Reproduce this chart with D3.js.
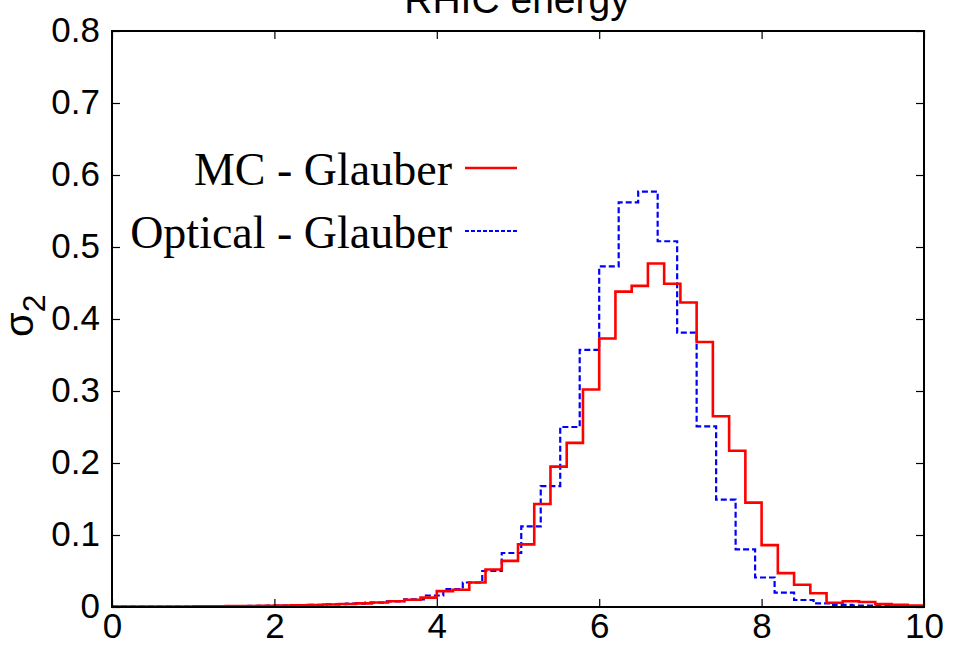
<!DOCTYPE html>
<html><head><meta charset="utf-8">
<script src="https://cdn.jsdelivr.net/npm/d3@7"></script>
<style>body{margin:0;background:#fff}svg{display:block}</style>
</head><body>
<script>
const title = "RHIC energy";
const yLabel = "σ";
const yLabelSub = "2";
const xTicks = [0, 2, 4, 6, 8, 10];
const yTicks = [0, 0.1, 0.2, 0.3, 0.4, 0.5, 0.6, 0.7, 0.8];
const seriesNames = ["MC - Glauber", "Optical - Glauber"];

// MC - Glauber: bins of width 0.2 from 0 to 10
const mcBinWidth = 0.2;
const mcValues = [
  0.0005,0.0005,0.0005,0.0006,0.0007,0.0008,0.0010,0.0012,0.0014,0.0017,
  0.0020,0.0023,0.0028,0.0035,0.0042,0.0050,0.0062,0.0080,0.0100,0.0130,
  0.022,0.024,0.034,0.052,0.064,0.087,0.143,0.195,0.228,0.302,
  0.373,0.438,0.446,0.477,0.449,0.423,0.368,0.265,0.217,0.145,
  0.086,0.047,0.031,0.019,0.006,0.008,0.007,0.004,0.003,0.002
];
// Optical - Glauber: bins of width 0.24 from 0
const optBinWidth = 0.24;
const optValues = [
  0.0005,0.0005,0.0006,0.0007,0.0008,0.0010,0.0012,0.0015,0.0019,0.0024,
  0.0030,0.0038,0.0048,0.0060,0.0078,0.0105,0.016,0.025,0.034,0.050,
  0.075,0.112,0.168,0.250,0.357,0.473,0.562,0.577,0.508,0.381,
  0.251,0.149,0.080,0.041,0.020,0.0097,0.005,0.003,0.002,0.0012,
  0.0008,0.0005
];

const W = 956, H = 645;
const m = {left: 112, right: 32, top: 31, bottom: 38};
const svg = d3.select("body").append("svg").attr("width", W).attr("height", H);
const x = d3.scaleLinear().domain([0, 10]).range([m.left, W - m.right]);
const y = d3.scaleLinear().domain([0, 0.8]).range([H - m.bottom, m.top]);

svg.append("defs").append("clipPath").attr("id", "clip")
  .append("rect").attr("x", x(0)).attr("y", y(0.8)).attr("width", x(10) - x(0)).attr("height", y(0) - y(0.8));

function stepPoints(vals, w) {
  const pts = vals.map((v, i) => [i * w, v]);
  pts.push([vals.length * w, vals[vals.length - 1]]);
  return pts;
}
const line = d3.line().x(d => x(d[0])).y(d => y(d[1])).curve(d3.curveStepAfter);

const g = svg.append("g").attr("clip-path", "url(#clip)");
g.append("path").attr("d", line(stepPoints(optValues, optBinWidth)))
  .attr("fill", "none").attr("stroke", "#0000ff").attr("stroke-width", 2.2)
  .attr("stroke-dasharray", "6,3");
g.append("path").attr("d", line(stepPoints(mcValues, mcBinWidth)))
  .attr("fill", "none").attr("stroke", "#ff0000").attr("stroke-width", 2.6);

// axes with inward ticks on all sides
const font = "'Liberation Sans', Arial, sans-serif";
const tickLen = 8;
const axB = svg.append("g").attr("transform", `translate(0,${y(0)})`)
  .call(d3.axisBottom(x).tickValues(xTicks).tickSize(-tickLen).tickFormat(d3.format("d")));
const axT = svg.append("g").attr("transform", `translate(0,${y(0.8)})`)
  .call(d3.axisTop(x).tickValues(xTicks).tickSize(-tickLen).tickFormat(""));
const axL = svg.append("g").attr("transform", `translate(${x(0)},0)`)
  .call(d3.axisLeft(y).tickValues(yTicks).tickSize(-tickLen).tickPadding(12).tickFormat(d => d === 0 ? "0" : d3.format(".1f")(d)));
const axR = svg.append("g").attr("transform", `translate(${x(10)},0)`)
  .call(d3.axisRight(y).tickValues(yTicks).tickSize(-tickLen).tickFormat(""));
[axB, axT, axL, axR].forEach(a => {
  a.select(".domain").remove();
  a.selectAll(".tick line").attr("stroke", "#000").attr("stroke-width", 1.2);
  a.selectAll("text").attr("font-family", font).attr("font-size", 35).attr("fill", "#000");
});
axB.selectAll("text").attr("y", 31).attr("dy", 0);
axL.selectAll("text").attr("dy", "0.3em");
svg.append("rect").attr("x", x(0)).attr("y", y(0.8)).attr("width", x(10) - x(0)).attr("height", y(0) - y(0.8))
  .attr("fill", "none").attr("stroke", "#000").attr("stroke-width", 2);

// title
svg.append("text").attr("x", 517).attr("y", 13).attr("text-anchor", "middle")
  .attr("font-family", font).attr("font-size", 39).text(title);

// y label
const yl = svg.append("text").attr("transform", `translate(33,337) rotate(-90)`)
  .attr("font-family", font).attr("font-size", 40);
yl.append("tspan").text(yLabel);
yl.append("tspan").attr("font-size", 32).attr("dy", 12).text(yLabelSub);

// legend
const legend = [
  {name: seriesNames[0], color: "#ff0000", dash: null, w: 2.6, yy: 168},
  {name: seriesNames[1], color: "#0000ff", dash: "4,2", w: 2, yy: 231}
];
legend.forEach(l => {
  svg.append("text").attr("x", 452).attr("y", l.yy + 17).attr("text-anchor", "end")
    .attr("font-family", "'Liberation Serif', 'Times New Roman', serif").attr("font-size", 46).text(l.name);
  svg.append("line").attr("x1", 465).attr("x2", 517).attr("y1", l.yy).attr("y2", l.yy)
    .attr("stroke", l.color).attr("stroke-width", l.w).attr("stroke-dasharray", l.dash);
});
</script>
</body></html>
